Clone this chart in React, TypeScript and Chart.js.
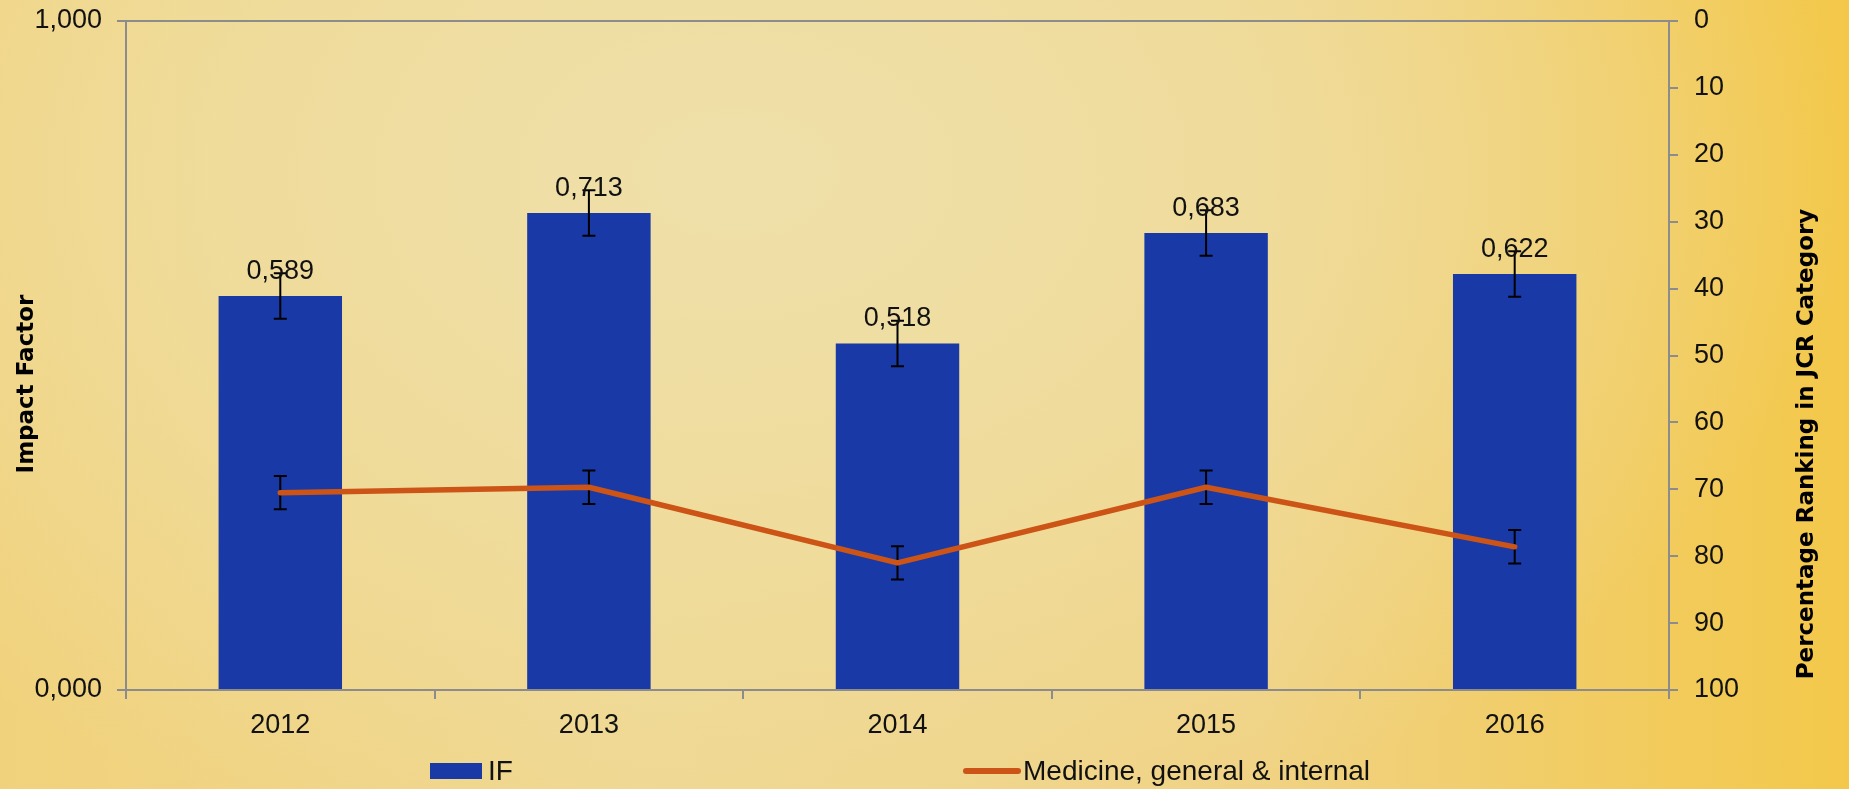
import React, { useEffect, useRef } from "react";
import { Chart, registerables } from "chart.js";

Chart.register(...registerables);

// ---- Data ----
const years = ["2012", "2013", "2014", "2015", "2016"];
const impactFactor = [0.589, 0.713, 0.518, 0.683, 0.622];
const impactFactorError = [0.034, 0.034, 0.034, 0.034, 0.034];
const rankingMedicine = [70.5, 69.7, 81.0, 69.7, 78.6];
const rankingError = [2.5, 2.5, 2.5, 2.5, 2.5];
const leftAxisTicks = [0, 1];
const rightAxisTicks = [0, 10, 20, 30, 40, 50, 60, 70, 80, 90, 100];

const seriesBarLabel = "IF";
const seriesLineLabel = "Medicine, general & internal";
const leftTitle = "Impact Factor";
const rightTitle = "Percentage Ranking in JCR Category";

// ---- Styles ----
const FONT = "'Liberation Sans', Arial, sans-serif";
const TITLE_FONT = "'DejaVu Sans', sans-serif";
const BAR_COLOR = "#1939A6";
const LINE_COLOR = "#CC5416";
const AXIS_COLOR = "#8c8c8c";
const TEXT_COLOR = "#111111";

const fmt3 = (v: number) => v.toFixed(3).replace(".", ",");

const errorBarPlugin = {
  id: "errorBars",
  afterDatasetDraw(chart: any, args: any) {
    if (args.index !== 0) return;
    const { ctx } = chart;
    const x = chart.scales.x;
    const y = chart.scales.y;
    const y1 = chart.scales.y1;
    const cap = 6.5;
    ctx.save();
    ctx.strokeStyle = "#000";
    ctx.lineWidth = 2;
    const draw = (cx: number, top: number, bot: number) => {
      ctx.beginPath();
      ctx.moveTo(cx, top);
      ctx.lineTo(cx, bot);
      ctx.moveTo(cx - cap, top);
      ctx.lineTo(cx + cap, top);
      ctx.moveTo(cx - cap, bot);
      ctx.lineTo(cx + cap, bot);
      ctx.stroke();
    };
    years.forEach((_, i) => {
      const cx = x.getPixelForValue(i);
      draw(
        cx,
        y.getPixelForValue(impactFactor[i] + impactFactorError[i]),
        y.getPixelForValue(impactFactor[i] - impactFactorError[i])
      );
      draw(
        cx,
        y1.getPixelForValue(rankingMedicine[i] - rankingError[i]),
        y1.getPixelForValue(rankingMedicine[i] + rankingError[i])
      );
    });
    ctx.restore();
  },
};

const labelsPlugin = {
  id: "extraText",
  afterDatasetsDraw(chart: any) {
    const { ctx } = chart;
    const meta = chart.getDatasetMeta(0);
    ctx.save();
    ctx.fillStyle = TEXT_COLOR;
    ctx.font = `27px ${FONT}`;
    ctx.textAlign = "center";
    ctx.textBaseline = "alphabetic";
    meta.data.forEach((el: any, i: number) => {
      ctx.fillText(fmt3(impactFactor[i]), el.x, el.y - 17);
    });
    ctx.restore();
  },
  afterDraw(chart: any) {
    const { ctx } = chart;
    ctx.save();
    // axis titles
    ctx.fillStyle = "#000";
    ctx.font = `bold 23px ${TITLE_FONT}`;
    ctx.textAlign = "center";
    ctx.textBaseline = "alphabetic";
    ctx.save();
    ctx.translate(33, 384);
    ctx.rotate(-Math.PI / 2);
    ctx.fillText(leftTitle, 0, 0);
    ctx.restore();
    ctx.save();
    ctx.translate(1813, 444);
    ctx.rotate(-Math.PI / 2);
    ctx.fillText(rightTitle, 0, 0);
    ctx.restore();

    // legend
    const ly = 771;
    ctx.font = `28px ${FONT}`;
    ctx.textAlign = "left";
    ctx.textBaseline = "middle";
    ctx.fillStyle = BAR_COLOR;
    ctx.fillRect(430, ly - 8, 52, 16);
    ctx.fillStyle = TEXT_COLOR;
    ctx.fillText(seriesBarLabel, 488, ly + 1);
    ctx.strokeStyle = LINE_COLOR;
    ctx.lineWidth = 6;
    ctx.lineCap = "round";
    ctx.beginPath();
    ctx.moveTo(966, ly);
    ctx.lineTo(1018, ly);
    ctx.stroke();
    ctx.fillText(seriesLineLabel, 1023, ly + 1);
    ctx.restore();
  },
};

export default function App() {
  const canvasRef = useRef<HTMLCanvasElement | null>(null);

  useEffect(() => {
    if (!canvasRef.current) return;
    const tickFont = { family: FONT, size: 27 };
    const chart = new Chart(canvasRef.current, {
      type: "bar",
      data: {
        labels: years,
        datasets: [
          {
            type: "bar",
            label: seriesBarLabel,
            data: impactFactor,
            backgroundColor: BAR_COLOR,
            borderWidth: 0,
            yAxisID: "y",
            barPercentage: 0.4,
            categoryPercentage: 1,
            order: 2,
          },
          {
            type: "line",
            label: seriesLineLabel,
            data: rankingMedicine,
            borderColor: LINE_COLOR,
            backgroundColor: LINE_COLOR,
            borderWidth: 5.5,
            borderCapStyle: "round",
            borderJoinStyle: "round",
            pointRadius: 0,
            tension: 0,
            yAxisID: "y1",
            order: 1,
          } as any,
        ],
      },
      options: {
        responsive: false,
        devicePixelRatio: 1,
        animation: false,
        layout: { padding: { top: 21, left: 0, right: 0, bottom: 0 } },
        plugins: {
          legend: { display: false },
          tooltip: { enabled: false },
        },
        scales: {
          x: {
            grid: {
              display: true,
              drawOnChartArea: false,
              offset: true,
              tickLength: 9,
              color: AXIS_COLOR,
              lineWidth: 2,
            },
            border: { color: AXIS_COLOR, width: 2 },
            ticks: { font: tickFont, color: TEXT_COLOR, padding: 10, maxRotation: 0 },
            afterFit: (s: any) => {
              s.height = 99;
              s.paddingLeft = 0;
              s.paddingRight = 0;
            },
          },
          y: {
            position: "left",
            min: 0,
            max: 1,
            afterBuildTicks: (s: any) => {
              s.ticks = leftAxisTicks.map((v) => ({ value: v }));
            },
            ticks: {
              font: tickFont,
              color: TEXT_COLOR,
              padding: 15,
              callback: (v: any) => fmt3(Number(v)),
            },
            grid: {
              drawOnChartArea: true,
              tickLength: 9,
              color: AXIS_COLOR,
              lineWidth: 2,
            },
            border: { color: AXIS_COLOR, width: 2 },
            afterFit: (s: any) => {
              s.width = 126;
              s.paddingTop = 0;
              s.paddingBottom = 0;
            },
          },
          y1: {
            position: "right",
            reverse: true,
            min: 0,
            max: 100,
            afterBuildTicks: (s: any) => {
              s.ticks = rightAxisTicks.map((v) => ({ value: v }));
            },
            ticks: {
              font: tickFont,
              color: TEXT_COLOR,
              padding: 16,
            },
            grid: {
              drawOnChartArea: false,
              tickLength: 9,
              color: AXIS_COLOR,
              lineWidth: 2,
            },
            border: { color: AXIS_COLOR, width: 2 },
            afterFit: (s: any) => {
              s.width = 180;
              s.paddingTop = 0;
              s.paddingBottom = 0;
            },
          },
        },
      },
      plugins: [errorBarPlugin, labelsPlugin],
    });
    return () => chart.destroy();
  }, []);

  return (
    <div
      style={{
        position: "fixed",
        left: 0,
        top: 0,
        width: 1849,
        height: 789,
        background:
          "radial-gradient(ellipse 60% 90% at 40% 22%, rgba(239,224,170,1) 0%, rgba(239,222,162,0.8) 45%, rgba(239,218,150,0) 100%), linear-gradient(90deg, #F1D27C 0%, #EFD790 35%, #F0D283 68%, #F3C84A 100%)",
      }}
    >
      <canvas
        ref={canvasRef}
        width={1849}
        height={789}
        style={{ width: 1849, height: 789, display: "block" }}
      />
    </div>
  );
}
